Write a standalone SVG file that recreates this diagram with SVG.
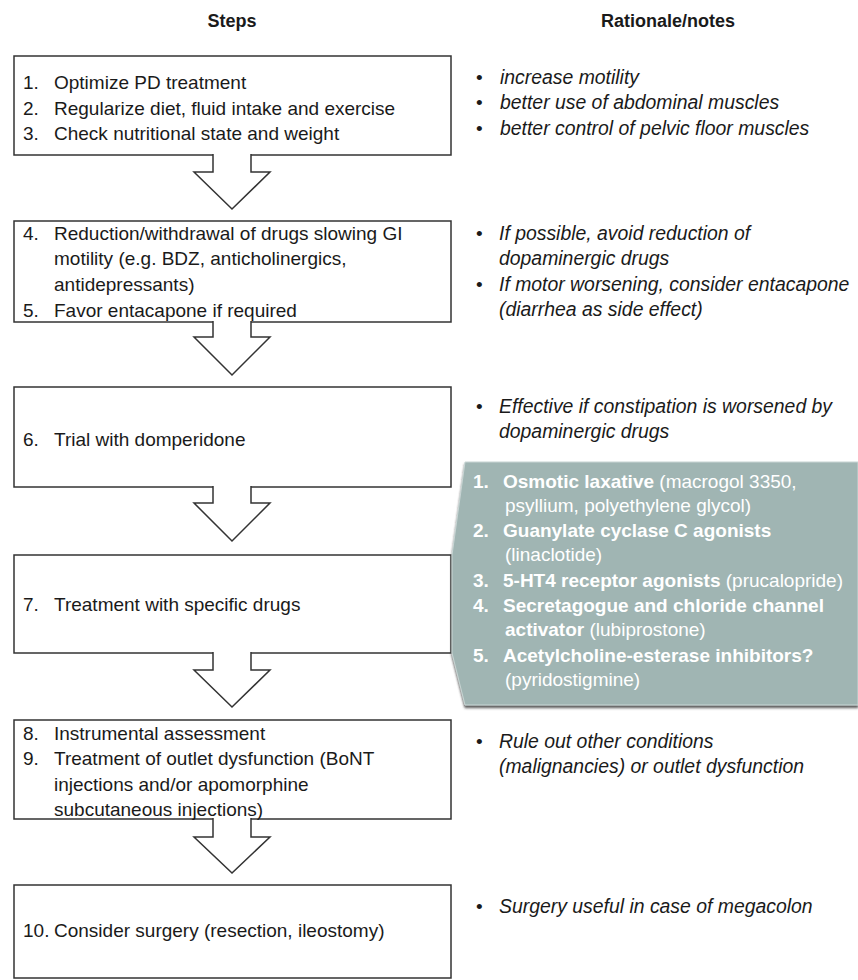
<svg xmlns="http://www.w3.org/2000/svg" width="858" height="980" viewBox="0 0 858 980">
<style>
text{font-family:"Liberation Sans",Arial,sans-serif;font-size:19px;fill:#1a1a1a}
.h{font-weight:bold;font-size:18px;text-anchor:middle}
.i{font-style:italic;font-size:19.4px}
.box{fill:#fff;stroke:#333;stroke-width:1.5}
.arr{fill:#fff;stroke:#333;stroke-width:1.5;stroke-linejoin:miter}
.t text{fill:#fff}
.b{font-weight:bold}
</style>
<defs>
<filter id="sh" x="-5%" y="-5%" width="110%" height="115%">
<feDropShadow dx="0" dy="2.5" stdDeviation="1.2" flood-color="#3a3a3a" flood-opacity="0.85"/>
</filter>
</defs>
<rect width="858" height="980" fill="#fff"/>
<text class="h" x="232" y="27">Steps</text>
<text class="h" x="668" y="27">Rationale/notes</text>

<g id="step1">
<rect class="box" x="14" y="56" width="437" height="99"/>
<text x="23" y="89">1.</text><text x="54" y="89">Optimize PD treatment</text>
<text x="23" y="115">2.</text><text x="54" y="115">Regularize diet, fluid intake and exercise</text>
<text x="23" y="140">3.</text><text x="54" y="140">Check nutritional state and weight</text>
</g>
<g id="note1">
<text x="476" y="84">•</text><text class="i" x="500" y="84">increase motility</text>
<text x="476" y="109">•</text><text class="i" x="500" y="109">better use of abdominal muscles</text>
<text x="476" y="135">•</text><text class="i" x="500" y="135">better control of pelvic floor muscles</text>
</g>

<g id="step2">
<rect class="box" x="14" y="221" width="437" height="101"/>
<text x="23" y="240">4.</text><text x="54" y="240">Reduction/withdrawal of drugs slowing GI</text>
<text x="54" y="265">motility (e.g. BDZ, anticholinergics,</text>
<text x="54" y="291">antidepressants)</text>
<text x="23" y="317">5.</text><text x="54" y="317">Favor entacapone if required</text>
</g>
<g id="note2">
<text x="476" y="240">•</text><text class="i" x="499" y="240">If possible, avoid reduction of</text>
<text class="i" x="499" y="265">dopaminergic drugs</text>
<text x="476" y="291">•</text><text class="i" x="499" y="291">If motor worsening, consider entacapone</text>
<text class="i" x="499" y="316">(diarrhea as side effect)</text>
</g>

<g id="step3">
<rect class="box" x="14" y="387" width="437" height="100"/>
<text x="23" y="446">6.</text><text x="54" y="446">Trial with domperidone</text>
</g>
<g id="note3">
<text x="476" y="413">•</text><text class="i" x="499" y="413">Effective if constipation is worsened by</text>
<text class="i" x="499" y="438">dopaminergic drugs</text>
</g>

<g id="step4">
<rect class="box" x="14" y="555" width="437" height="98"/>
<text x="23" y="611">7.</text><text x="54" y="611">Treatment with specific drugs</text>
</g>

<g id="drugs" class="t">
<path d="M465,462 L858,462 L858,705 L465,705 L452,653 L452,555 Z" fill="#a0b5b3" stroke="#c9d6d5" stroke-width="1" filter="url(#sh)"/>
<text class="b" x="473" y="488">1.</text><text x="503" y="488"><tspan class="b">Osmotic laxative</tspan> (macrogol 3350,</text>
<text x="505" y="512">psyllium, polyethylene glycol)</text>
<text class="b" x="473" y="537">2.</text><text class="b" x="503" y="537">Guanylate cyclase C agonists</text>
<text x="505" y="561">(linaclotide)</text>
<text class="b" x="473" y="587">3.</text><text x="503" y="587"><tspan class="b">5-HT4 receptor agonists</tspan> (prucalopride)</text>
<text class="b" x="473" y="612">4.</text><text class="b" x="503" y="612">Secretagogue and chloride channel</text>
<text x="505" y="636"><tspan class="b">activator</tspan> (lubiprostone)</text>
<text class="b" x="473" y="662">5.</text><text class="b" x="503" y="662">Acetylcholine-esterase inhibitors?</text>
<text x="505" y="686">(pyridostigmine)</text>
</g>

<g id="step5">
<rect class="box" x="14" y="720" width="437" height="99"/>
<text x="23" y="740">8.</text><text x="54" y="740">Instrumental assessment</text>
<text x="23" y="765">9.</text><text x="54" y="765">Treatment of outlet dysfunction (BoNT</text>
<text x="54" y="791">injections and/or apomorphine</text>
<text x="54" y="816">subcutaneous injections)</text>
</g>
<g id="note5">
<text x="476" y="748">•</text><text class="i" x="499" y="748">Rule out other conditions</text>
<text class="i" x="499" y="773">(malignancies) or outlet dysfunction</text>
</g>

<g id="step6">
<rect class="box" x="14" y="885" width="437" height="93"/>
<text x="23" y="937">10.</text><text x="54" y="937">Consider surgery (resection, ileostomy)</text>
</g>
<g id="note6">
<text x="476" y="913">•</text><text class="i" x="499" y="913">Surgery useful in case of megacolon</text>
</g>

<g id="connectors">
<path class="arr" d="M213,154 L213,172 L194,172 L232,209 L270,172 L251,172 L251,154"/>
<path class="arr" d="M213,321 L213,337 L194,337 L232,375 L270,337 L251,337 L251,321"/>
<path class="arr" d="M213,486 L213,503 L194,503 L232,541 L270,503 L251,503 L251,486"/>
<path class="arr" d="M213,652 L213,670 L194,670 L232,707 L270,670 L251,670 L251,652"/>
<path class="arr" d="M213,818 L213,837 L194,837 L232,873 L270,837 L251,837 L251,818"/>
</g>
</svg>
